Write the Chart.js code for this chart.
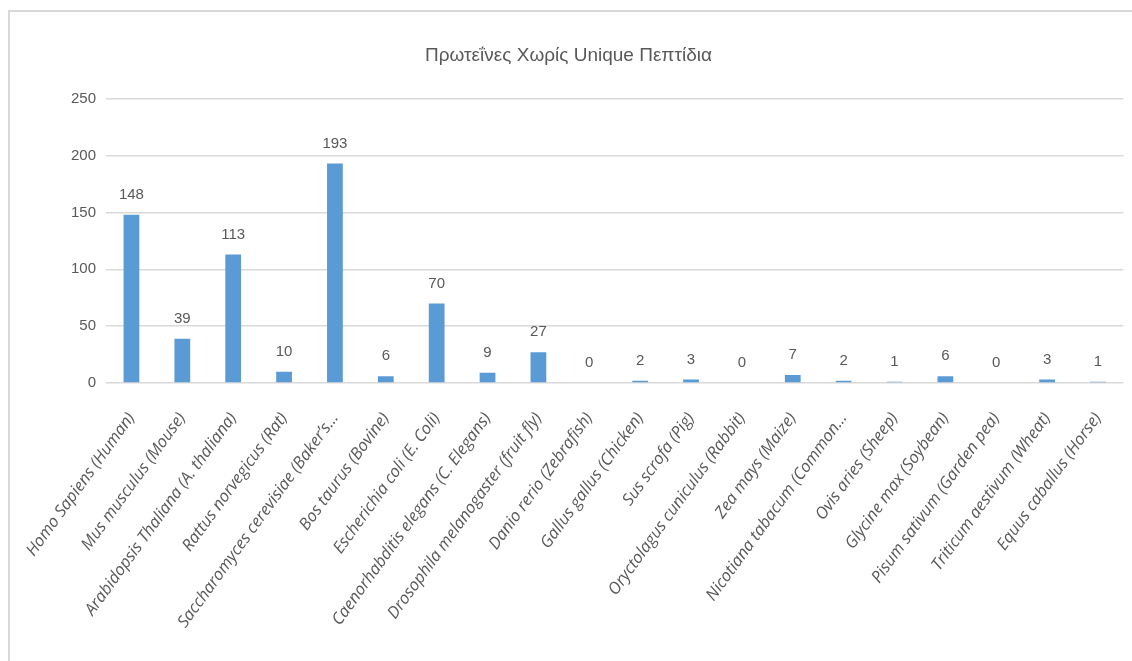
<!DOCTYPE html>
<html>
<head>
<meta charset="utf-8">
<script src="https://cdn.jsdelivr.net/npm/chart.js@4.4.1/dist/chart.umd.min.js"></script>
<style>
    html, body { margin: 0; padding: 0; background: #ffffff; }
    body { width: 1132px; height: 661px; overflow: hidden; position: relative; }
    #frame {
        position: absolute;
        left: 8px;
        top: 10px;
        width: 1122px;
        height: 649px;
        border-top: 2px solid #d9d9d9;
        border-left: 2px solid #d9d9d9;
    }
</style>
</head>
<body>
<div id="frame"><canvas id="no-unique-peptides"></canvas></div>
<script>
// organisms, shortened the same way the axis shows them
const organisms = [
    "Homo Sapiens (Human)",
    "Mus musculus (Mouse)",
    "Arabidopsis Thaliana (A. thaliana)",
    "Rattus norvegicus (Rat)",
    "Saccharomyces cerevisiae (Baker\u2019s\u2026",
    "Bos taurus (Bovine)",
    "Escherichia coli (E. Coli)",
    "Caenorhabditis elegans (C. Elegans)",
    "Drosophila melanogaster (fruit fly)",
    "Danio rerio (Zebrafish)",
    "Gallus gallus (Chicken)",
    "Sus scrofa (Pig)",
    "Oryctolagus cuniculus (Rabbit)",
    "Zea mays (Maize)",
    "Nicotiana tabacum (Common\u2026",
    "Ovis aries (Sheep)",
    "Glycine max (Soybean)",
    "Pisum sativum (Garden pea)",
    "Triticum aestivum (Wheat)",
    "Equus caballus (Horse)"
];

// proteins without a unique peptide, per organism
const proteinCounts = [148, 39, 113, 10, 193, 6, 70, 9, 27, 0, 2, 3, 0, 7, 2, 1, 6, 0, 3, 1];

// y axis ticks
const yTicks = [0, 50, 100, 150, 200, 250];

const textGrey = '#595959';
const gridGrey = '#d9d9d9';
const barBlue = '#5b9bd5';
const numberFont = '"Liberation Sans Narrow", "Liberation Sans", sans-serif';

// value labels over each bar
const barValueLabels = {
    id: 'barValueLabels',
    afterDatasetsDraw(chart) {
        const ctx = chart.ctx;
        const meta = chart.getDatasetMeta(0);
        ctx.save();
        ctx.font = '15px ' + numberFont;
        ctx.fillStyle = textGrey;
        ctx.textAlign = 'center';
        ctx.textBaseline = 'middle';
        meta.data.forEach((bar, i) => {
            ctx.fillText(String(proteinCounts[i]), bar.x, bar.y - 20);
        });
        ctx.restore();
    }
};

const ctx = document.getElementById('no-unique-peptides').getContext('2d');
const peptideChart = new Chart(ctx, {
    type: 'bar',
    data: {
        labels: organisms,
        datasets: [{
            label: 'Πρωτεΐνες',
            data: proteinCounts,
            backgroundColor: barBlue,
            borderWidth: 0,
            categoryPercentage: 1,
            barPercentage: 0.31
        }]
    },
    options: {
        responsive: true,
        maintainAspectRatio: false,
        animation: false,
        layout: {
            padding: { left: 0, right: 5, top: 0, bottom: 0 }
        },
        scales: {
            x: {
                grid: { display: false },
                border: { display: false },
                ticks: {
                    autoSkip: false,
                    minRotation: 54,
                    maxRotation: 54,
                    padding: 18,
                    color: textGrey,
                    font: { family: '"Open Sans", sans-serif', size: 16.5, style: 'italic' }
                },
                afterFit(scale) {
                    scale.height = 278;
                }
            },
            y: {
                min: 0,
                max: 250,
                afterBuildTicks(scale) {
                    scale.ticks = yTicks.map(v => ({ value: v }));
                },
                grid: {
                    color: gridGrey,
                    lineWidth: 1.5,
                    drawTicks: false
                },
                border: { display: false },
                ticks: {
                    padding: 10,
                    color: textGrey,
                    font: { family: numberFont, size: 15 }
                },
                afterFit(scale) {
                    scale.width = 91;
                }
            }
        },
        plugins: {
            legend: { display: false },
            tooltip: { enabled: false },
            title: {
                display: true,
                text: 'Πρωτεΐνες Χωρίς Unique Πεπτίδια',
                color: textGrey,
                font: { family: numberFont, size: 19, weight: 'normal' },
                padding: { top: 32, bottom: 32 }
            }
        }
    },
    plugins: [barValueLabels]
});
</script>
</body>
</html>
